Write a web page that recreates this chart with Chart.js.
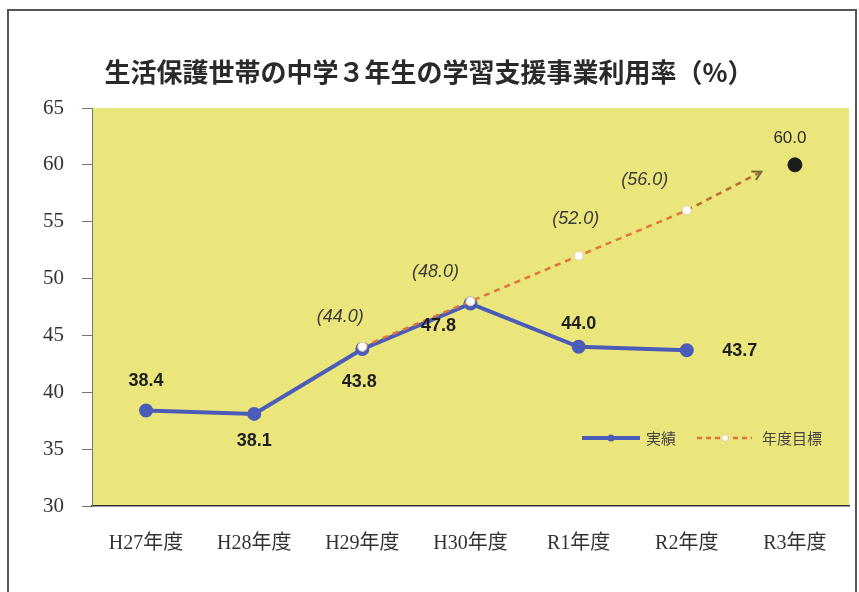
<!DOCTYPE html>
<html>
<head>
<meta charset="utf-8">
<script src="https://cdn.jsdelivr.net/npm/chart.js@4.4.1/dist/chart.umd.min.js"></script>
<style>
    html, body { margin: 0; padding: 0; background: #fff; }
    #wrap { position: relative; width: 859px; height: 592px; }
    #frame { position: absolute; left: 7px; top: 9px; width: 850px; height: 600px;
             border: 2px solid #555; border-bottom: none; box-sizing: border-box; }
    canvas { position: absolute; left: 0; top: 0; }
</style>
</head>
<body>
<div id="wrap">
    <div id="frame"></div>
    <canvas id="chart" width="859" height="592"></canvas>
</div>
<script>
// Data
const categories = ['H27年度', 'H28年度', 'H29年度', 'H30年度', 'R1年度', 'R2年度', 'R3年度'];
const actualValues = [38.4, 38.1, 43.8, 47.8, 44.0, 43.7, null];
const targetValues = [null, null, 44.0, 48.0, 52.0, 56.0, null];
const targetArrowEnd = { x: 5.69, y: 59.4 };
const goalIndex = 6;
const goalValue = 60.0;
const yTicks = [30, 35, 40, 45, 50, 55, 60, 65];

// Label placement (pixel offsets from each point)
const actualLabelOffsets = [[0, -29], [0, 27], [-3, 33], [-32, 22], [0, -23], [53, 1]];
const targetLabelOffsets = [null, null, [-22, -30], [-35, -29], [-3, -37], [-42, -30]];
const goalLabelOffset = [-5, -27];

const titleText = '生活保護世帯の中学３年生の学習支援事業利用率（%）';

// Build datasets
const actualData = actualValues
    .map((v, i) => ({ x: i, y: v }))
    .filter(p => p.y !== null);

const targetData = targetValues
    .map((v, i) => ({ x: i, y: v }))
    .filter(p => p.y !== null);
targetData.push({ x: targetArrowEnd.x, y: targetArrowEnd.y });

const BLUE = '#4a5bb8';
const ORANGE = '#e2733a';
const OLIVE = '#6f6a36';

// Plot background
const plotBackground = {
    id: 'plotBackground',
    beforeDraw(chart) {
        const { ctx, chartArea: a } = chart;
        ctx.save();
        ctx.fillStyle = '#ebe67c';
        ctx.fillRect(a.left, a.top, a.right - a.left, a.bottom - a.top);
        ctx.restore();
    }
};

// Title, labels, arrow head and legend
const overlay = {
    id: 'overlay',
    afterDatasetsDraw(chart) {
        const { ctx } = chart;
        const x = chart.scales.x;
        const y = chart.scales.y;

        ctx.save();
        // title
        ctx.fillStyle = '#2a2a2a';
        ctx.font = 'bold 26px "Noto Sans CJK JP"';
        ctx.textAlign = 'center';
        ctx.textBaseline = 'middle';
        ctx.fillText(titleText, 429, 72);

        // arrow head on target line
        const n = targetData.length;
        const p1 = targetData[n - 2], p2 = targetData[n - 1];
        const x1 = x.getPixelForValue(p1.x), y1 = y.getPixelForValue(p1.y);
        const x2 = x.getPixelForValue(p2.x), y2 = y.getPixelForValue(p2.y);
        const ang = Math.atan2(y2 - y1, x2 - x1);
        ctx.strokeStyle = OLIVE;
        ctx.lineWidth = 2;
        ctx.beginPath();
        ctx.moveTo(x2 - 10 * Math.cos(ang - 0.5), y2 - 10 * Math.sin(ang - 0.5));
        ctx.lineTo(x2, y2);
        ctx.lineTo(x2 - 10 * Math.cos(ang + 0.5), y2 - 10 * Math.sin(ang + 0.5));
        ctx.stroke();

        // actual labels
        ctx.fillStyle = '#1e1e1e';
        ctx.font = 'bold 18px "Liberation Sans", Arial';
        actualValues.forEach((v, i) => {
            if (v === null || !actualLabelOffsets[i]) return;
            const [dx, dy] = actualLabelOffsets[i];
            ctx.fillText(v.toFixed(1), x.getPixelForValue(i) + dx, y.getPixelForValue(v) + dy);
        });

        // target labels
        ctx.fillStyle = '#3a3a3a';
        ctx.font = 'italic 18px "Liberation Sans", Arial';
        targetValues.forEach((v, i) => {
            if (v === null || !targetLabelOffsets[i]) return;
            const [dx, dy] = targetLabelOffsets[i];
            ctx.fillText('(' + v.toFixed(1) + ')', x.getPixelForValue(i) + dx, y.getPixelForValue(v) + dy);
        });

        // goal label
        ctx.fillStyle = '#2a2a2a';
        ctx.font = '17px "Liberation Sans", Arial';
        ctx.fillText(goalValue.toFixed(1), x.getPixelForValue(goalIndex) + goalLabelOffset[0],
            y.getPixelForValue(goalValue) + goalLabelOffset[1]);

        // legend
        const ly = 438;
        ctx.strokeStyle = BLUE;
        ctx.lineWidth = 4;
        ctx.beginPath(); ctx.moveTo(582, ly); ctx.lineTo(640, ly); ctx.stroke();
        ctx.fillStyle = BLUE;
        ctx.beginPath(); ctx.arc(611, ly, 3.5, 0, Math.PI * 2); ctx.fill();
        ctx.fillStyle = '#444';
        ctx.font = '15px "Noto Sans CJK JP"';
        ctx.textAlign = 'left';
        ctx.fillText('実績', 646, ly);

        ctx.strokeStyle = ORANGE;
        ctx.lineWidth = 2.5;
        ctx.setLineDash([5, 4]);
        ctx.beginPath(); ctx.moveTo(697, ly); ctx.lineTo(752, ly); ctx.stroke();
        ctx.setLineDash([]);
        ctx.fillStyle = '#fff';
        ctx.strokeStyle = '#e8c8a0';
        ctx.lineWidth = 1;
        ctx.beginPath(); ctx.arc(725, ly, 3.5, 0, Math.PI * 2); ctx.fill(); ctx.stroke();
        ctx.fillStyle = '#444';
        ctx.fillText('年度目標', 762, ly);
        ctx.restore();
    }
};

const ctx = document.getElementById('chart').getContext('2d');
new Chart(ctx, {
    type: 'line',
    data: {
        datasets: [
            {
                label: '年度目標',
                data: targetData,
                order: 0,
                borderColor: ORANGE,
                borderWidth: 2.5,
                borderDash: [6, 5],
                segment: {
                    borderColor: c => c.p0DataIndex >= 4 ? OLIVE : (c.p0DataIndex >= 3 ? '#b86e36' : ORANGE)
                },
                pointRadius: targetData.map((p, i) => i === targetData.length - 1 ? 0 : 4.5),
                pointBackgroundColor: '#ffffff',
                pointBorderColor: '#e6cfb0',
                pointBorderWidth: 1,
                fill: false,
                tension: 0
            },
            {
                label: '実績',
                data: actualData,
                order: 1,
                borderColor: BLUE,
                borderWidth: 4,
                pointRadius: 5,
                pointBackgroundColor: BLUE,
                pointBorderColor: BLUE,
                fill: false,
                tension: 0
            },
            {
                label: 'R3',
                data: [{ x: goalIndex, y: goalValue }],
                order: 2,
                showLine: false,
                pointRadius: 7,
                pointBackgroundColor: '#1c1c1c',
                pointBorderColor: '#1c1c1c'
            }
        ]
    },
    options: {
        responsive: false,
        animation: false,
        layout: { padding: { top: 108, right: 10, left: 0, bottom: 0 } },
        plugins: {
            legend: { display: false },
            title: { display: false },
            tooltip: { enabled: false }
        },
        scales: {
            x: {
                type: 'linear',
                min: -0.5,
                max: 6.5,
                afterBuildTicks: s => { s.ticks = categories.map((c, i) => ({ value: i })); },
                afterFit: s => { s.height = 86; },
                grid: { display: false },
                border: { display: true, color: '#333', width: 1.5 },
                ticks: {
                    padding: 18,
                    color: '#333',
                    font: { family: '"Liberation Serif", "Noto Sans CJK JP"', size: 20 },
                    callback: v => categories[v]
                }
            },
            y: {
                min: 30,
                max: 65,
                afterBuildTicks: s => { s.ticks = yTicks.map(v => ({ value: v })); },
                afterFit: s => { s.width = 92; },
                grid: { drawOnChartArea: false, drawTicks: true, tickLength: 10, color: '#777' },
                border: { display: true, color: '#777', width: 1 },
                ticks: {
                    padding: 18,
                    color: '#333',
                    font: { family: '"Liberation Serif"', size: 21 }
                }
            }
        }
    },
    plugins: [plotBackground, overlay]
});
</script>
</body>
</html>
